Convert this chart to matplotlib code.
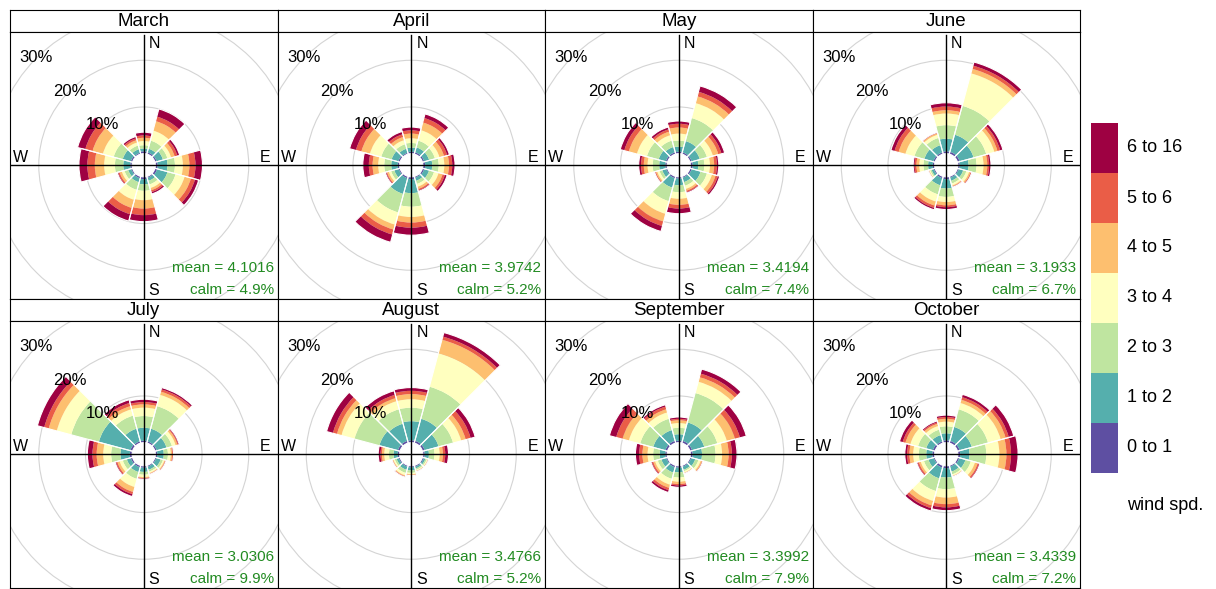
import numpy as np
import matplotlib.pyplot as plt
from matplotlib.patches import Wedge, Circle

plt.rcParams['font.family'] = ['Liberation Sans', 'DejaVu Sans']

months = ["March", "April", "May", "June", "July", "August", "September", "October"]
means = ["4.1016", "3.9742", "3.4194", "3.1933", "3.0306", "3.4766", "3.3992", "3.4339"]
calms = ["4.9%", "5.2%", "7.4%", "6.7%", "9.9%", "5.2%", "7.9%", "7.2%"]
directions = [0, 30, 60, 90, 120, 150, 180, 210, 240, 270, 300, 330]
speed_labels = ["0 to 1", "1 to 2", "2 to 3", "3 to 4", "4 to 5", "5 to 6", "6 to 16"]
speed_colors = ["#5E4FA2", "#55AFAD", "#BFE5A0", "#FFFFBF", "#FDBF6F", "#EA5D47", "#9E0142"]
grid_pct = [10, 20, 30]

# cumulative % (upper edge of each speed band) for N, 30, 60 ... 330 degrees
march = [[0.5, 1.1, 1.8, 2.7, 3.4, 3.9, 4.6], [0.4, 1.2, 3.0, 5.2, 7.3, 8.3, 10.0],
         [0.4, 1.8, 2.8, 3.6, 4.4, 5.0, 5.5], [0.5, 2.6, 4.2, 5.9, 7.3, 8.6, 10.1],
         [0.5, 2.8, 4.6, 6.6, 8.0, 8.9, 9.7], [0.3, 1.0, 1.8, 2.6, 3.1, 3.5, 3.9],
         [0.5, 1.6, 3.0, 5.0, 6.8, 8.2, 9.6], [0.4, 1.3, 3.0, 5.2, 7.0, 8.4, 9.9],
         [0.3, 1.0, 1.8, 2.4, 2.9, 3.2, 3.4], [0.4, 1.9, 3.7, 6.0, 8.0, 9.6, 11.4],
         [0.4, 2.2, 4.2, 6.6, 8.9, 10.5, 12.2], [0.3, 1.1, 1.9, 2.6, 3.1, 3.5, 3.9]]
april = [[0.4, 1.3, 2.3, 3.3, 4.3, 5.0, 5.7], [0.4, 1.5, 3.0, 5.3, 7.0, 8.0, 8.9],
         [0.4, 1.5, 2.8, 3.8, 4.8, 5.5, 6.0], [0.5, 2.0, 3.4, 4.6, 5.6, 6.3, 6.9],
         [0.4, 1.5, 2.6, 3.6, 4.5, 5.0, 5.5], [0.3, 1.0, 1.7, 2.3, 2.8, 3.1, 3.3],
         [0.5, 3.5, 6.4, 8.6, 9.8, 10.9, 12.5], [0.4, 3.9, 8.0, 10.7, 11.8, 12.9, 14.6],
         [0.3, 1.3, 2.0, 2.5, 2.9, 3.1, 3.3], [0.4, 1.8, 3.3, 4.6, 5.8, 6.6, 7.9],
         [0.4, 1.9, 4.2, 6.7, 8.6, 9.8, 11.2], [0.3, 1.2, 2.2, 3.1, 3.8, 4.4, 5.0]]
may = [[0.4, 1.5, 2.8, 4.3, 5.6, 6.4, 7.0], [0.4, 2.9, 8.0, 11.3, 12.8, 13.8, 15.1],
       [0.4, 2.2, 3.8, 5.1, 6.3, 7.0, 7.7], [0.5, 1.7, 3.0, 4.2, 5.1, 5.7, 6.1],
       [0.4, 2.4, 3.8, 4.9, 5.7, 6.2, 6.6], [0.3, 1.3, 2.1, 2.8, 3.2, 3.5, 3.7],
       [0.4, 1.8, 3.3, 4.7, 6.0, 6.8, 7.9], [0.4, 2.5, 5.5, 8.3, 10.0, 11.0, 12.2],
       [0.3, 1.2, 1.8, 2.3, 2.6, 2.8, 2.9], [0.4, 1.7, 3.1, 4.2, 5.0, 5.6, 6.1],
       [0.4, 2.0, 4.6, 6.8, 8.6, 9.6, 10.5], [0.4, 1.6, 3.0, 4.2, 5.0, 5.5, 6.0]]
june = [[0.5, 3.2, 6.1, 8.6, 9.3, 10.1, 10.9], [0.5, 4.3, 10.7, 17.9, 18.9, 19.6, 20.4],
        [0.5, 3.6, 6.4, 8.2, 8.9, 9.5, 10.1], [0.4, 2.3, 4.0, 5.5, 6.3, 6.7, 7.1],
        [0.3, 1.3, 2.0, 2.6, 2.9, 3.1, 3.2], [0.3, 1.0, 1.6, 2.0, 2.2, 2.3, 2.4],
        [0.5, 2.5, 4.3, 5.4, 6.1, 6.5, 7.0], [0.4, 2.0, 4.0, 5.6, 6.5, 7.0, 7.4],
        [0.3, 0.8, 1.1, 1.3, 1.4, 1.45, 1.5], [0.4, 1.4, 2.4, 3.3, 3.9, 4.3, 4.6],
        [0.4, 2.4, 4.6, 6.6, 8.1, 9.0, 9.8], [0.4, 2.0, 3.6, 4.3, 4.6, 4.7, 4.8]]
july = [[0.4, 3.2, 5.7, 7.5, 8.2, 8.7, 9.3], [0.4, 3.2, 8.2, 10.7, 11.4, 11.9, 12.3],
        [0.4, 2.6, 3.8, 4.6, 5.0, 5.2, 5.4], [0.4, 1.8, 2.7, 3.3, 3.6, 3.8, 3.9],
        [0.3, 1.3, 1.8, 2.1, 2.3, 2.4, 2.5], [0.3, 1.0, 1.4, 1.7, 1.85, 1.95, 2.0],
        [0.4, 1.3, 1.9, 2.4, 2.6, 2.75, 2.9], [0.4, 1.5, 3.0, 4.8, 5.9, 6.4, 6.9],
        [0.4, 1.3, 2.2, 2.9, 3.4, 3.7, 3.9], [0.5, 2.5, 4.5, 6.2, 7.6, 8.5, 9.6],
        [0.5, 7.5, 13.6, 16.8, 18.6, 19.6, 21.1], [0.4, 3.2, 6.1, 7.5, 8.2, 8.9, 9.6]]
august = [[0.5, 4.6, 7.5, 9.3, 10.4, 11.1, 11.8], [0.5, 5.4, 12.5, 19.9, 22.9, 23.6, 24.5],
          [0.5, 3.6, 6.8, 8.6, 9.6, 10.7, 11.7], [0.4, 1.3, 2.5, 3.6, 4.3, 4.8, 5.5],
          [0.3, 0.7, 1.0, 1.2, 1.3, 1.35, 1.4], [0.3, 0.7, 1.0, 1.2, 1.3, 1.35, 1.4],
          [0.3, 1.0, 1.5, 1.8, 1.95, 2.05, 2.1], [0.3, 1.0, 1.7, 2.2, 2.4, 2.5, 2.6],
          [0.3, 0.8, 1.2, 1.5, 1.65, 1.75, 1.8], [0.4, 1.3, 2.3, 3.3, 3.8, 4.1, 4.6],
          [0.5, 4.6, 10.1, 13.0, 14.0, 14.9, 16.3], [0.5, 4.3, 7.5, 9.3, 10.0, 10.7, 11.6]]
september = [[0.4, 1.8, 3.2, 4.2, 4.8, 5.1, 5.5], [0.5, 4.6, 11.1, 13.6, 14.6, 15.4, 16.4],
             [0.5, 3.2, 6.1, 8.2, 10.0, 11.1, 12.5], [0.5, 2.5, 5.4, 6.8, 8.2, 8.9, 10.0],
             [0.3, 1.2, 1.9, 2.4, 2.7, 2.8, 2.9], [0.3, 1.0, 1.3, 1.6, 1.7, 1.75, 1.8],
             [0.4, 1.4, 2.5, 3.4, 3.9, 4.2, 4.6], [0.4, 1.6, 3.0, 4.3, 5.0, 5.5, 6.0],
             [0.3, 1.4, 2.2, 2.8, 3.2, 3.5, 3.7], [0.4, 1.6, 3.0, 4.2, 5.3, 6.0, 6.8],
             [0.5, 3.2, 6.1, 8.6, 10.0, 11.4, 12.9], [0.5, 2.9, 5.4, 6.8, 7.5, 8.1, 8.5]]
october = [[0.5, 2.0, 3.5, 4.5, 5.1, 5.5, 5.9], [0.5, 3.6, 7.5, 8.9, 9.6, 10.2, 10.8],
           [0.5, 3.2, 6.8, 9.6, 10.7, 11.4, 12.5], [0.5, 2.5, 6.1, 8.9, 10.4, 11.4, 12.9],
           [0.4, 1.8, 3.0, 3.9, 4.5, 4.8, 5.0], [0.3, 1.4, 2.0, 2.3, 2.4, 2.45, 2.5],
           [0.5, 2.5, 5.0, 6.8, 8.2, 8.9, 9.6], [0.5, 2.9, 5.7, 7.9, 8.9, 9.5, 10.1],
           [0.3, 1.5, 2.5, 3.2, 3.6, 3.9, 4.1], [0.5, 1.8, 3.4, 4.6, 5.4, 5.9, 6.4],
           [0.5, 2.0, 3.8, 5.5, 6.6, 7.2, 7.9], [0.4, 1.8, 3.0, 3.8, 4.3, 4.6, 4.9]]
month_data = [march, april, may, june, july, august, september, october]

W, H = 1216, 589
fig = plt.figure(figsize=(W / 100, H / 100), dpi=100)

hole = 2.48          # hole in the middle (in % units)
px = 4.67            # pixels per 1 %
panel = 267.5        # panel size in pixels
strip = 21.5
R = panel / 2 / px


def draw_rose(ax, data, mean, calm):
    ax.set_xlim(-R, R)
    ax.set_ylim(-R, R)
    # grid circles
    for g in grid_pct:
        ax.add_patch(Circle((0, 0), hole + g, fill=False, ec="#D4D4D4", lw=0.8, zorder=1))
    # petals
    for d, cum in zip(directions, data):
        t1, t2 = 90 - d - 15, 90 - d + 15
        prev = 0
        for c, col in zip(cum, speed_colors):
            ax.add_patch(Wedge((0, 0), hole + c, t1, t2, width=c - prev,
                               facecolor=col, edgecolor="none", zorder=2))
            prev = c
        ax.add_patch(Wedge((0, 0), hole + cum[-1], t1, t2, width=cum[-1],
                           fill=False, edgecolor="white", lw=0.8, zorder=3))
    # axis cross
    ax.plot([-R, R], [0, 0], color="black", lw=1.0, zorder=4)
    ax.plot([0, 0], [-R, 130 / px], color="black", lw=1.0, zorder=4)
    ax.text(5 / px, 122 / px, "N", ha="left", va="center", fontsize=11.5, zorder=5)
    ax.text(5 / px, -125 / px, "S", ha="left", va="center", fontsize=11.5, zorder=5)
    ax.text(-130.5 / px, 7.7 / px, "W", ha="left", va="center", fontsize=11.5, zorder=5)
    ax.text(127 / px, 7.7 / px, "E", ha="right", va="center", fontsize=11.5, zorder=5)
    for g in grid_pct:
        r = hole + g
        ax.text(r * np.cos(np.radians(135)), r * np.sin(np.radians(135)), f"{g}%",
                ha="center", va="center", fontsize=12, zorder=5)
    ax.text(130 / px, -102.5 / px, f"mean = {mean}", ha="right", va="center",
            fontsize=11, color="forestgreen", zorder=5)
    ax.text(130 / px, -125 / px, f"calm = {calm}", ha="right", va="center",
            fontsize=11, color="forestgreen", zorder=5)
    ax.set_xticks([])
    ax.set_yticks([])
    for s in ax.spines.values():
        s.set_linewidth(0.8)


for i, name in enumerate(months):
    row, col = divmod(i, 4)
    x0 = 10 + col * panel
    y0 = 10 + row * (strip + panel)
    # strip with month name
    sax = fig.add_axes([x0 / W, 1 - (y0 + strip) / H, panel / W, strip / H])
    sax.set_xticks([])
    sax.set_yticks([])
    for s in sax.spines.values():
        s.set_linewidth(0.8)
    sax.text(0.5, 0.45, name, ha="center", va="center", fontsize=13.5, transform=sax.transAxes)
    # wind rose
    ax = fig.add_axes([x0 / W, 1 - (y0 + strip + panel) / H, panel / W, panel / H])
    draw_rose(ax, month_data[i], means[i], calms[i])

# speed key
kax = fig.add_axes([1091 / W, 1 - 473 / H, 27 / W, 350 / H])
for j, col in enumerate(speed_colors):
    kax.bar(0, 1, bottom=j, width=1, color=col)
kax.set_xlim(-0.5, 0.5)
kax.set_ylim(0, 7)
kax.axis("off")
for j, lab in enumerate(speed_labels):
    fig.text(1127 / W, 1 - (473 - 25 - j * 50) / H, lab, ha="left", va="center", fontsize=13)
fig.text(1127 / W, 1 - 505 / H, "wind spd.", ha="left", va="center", fontsize=13)

fig.savefig("out.png", dpi=100)
